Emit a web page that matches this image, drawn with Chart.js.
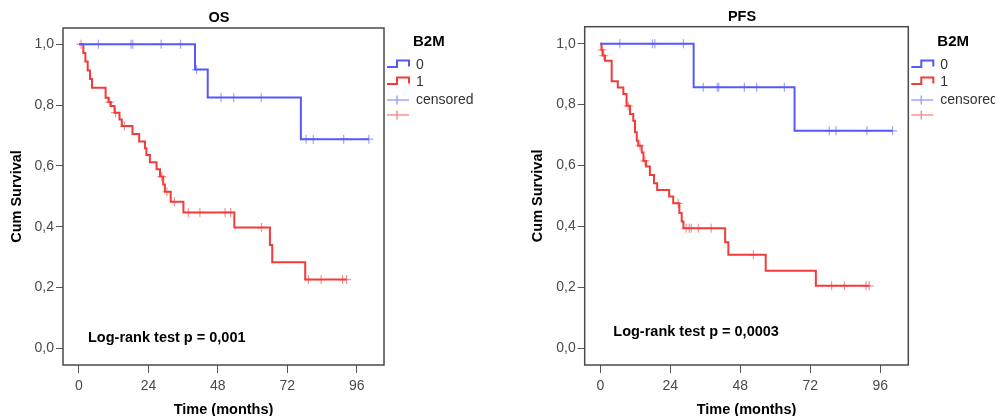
<!DOCTYPE html>
<html>
<head>
<meta charset="utf-8">
<script src="https://cdn.jsdelivr.net/npm/chart.js@4.4.0/dist/chart.umd.min.js"></script>
<style>
  html, body { margin: 0; padding: 0; background: #fff; overflow: hidden; }
  #wrap { position: relative; width: 995px; height: 416px; overflow: hidden; }
  canvas { position: absolute; top: 0; }
</style>
</head>
<body>
<div id="wrap">
  <canvas id="os" width="497" height="420" style="left:0"></canvas>
  <canvas id="pfs" width="498" height="420" style="left:497px"></canvas>
</div>
<script>
// tick labels / legend
const xTicks = [0, 24, 48, 72, 96];
const yTicks = [0, 0.2, 0.4, 0.6, 0.8, 1.0];
const groupLabels = ['0', '1'];
const legendTitle = 'B2M';

// OS, B2M = 0
const osTimes0 = [0, 40.1, 44.5, 76.7];
const osSurv0 = [1.0, 0.917, 0.825, 0.688];
const osCens0 = [6.7, 18.0, 18.6, 28.4, 35.1, 40.6, 49.1, 53.5, 63.0, 78.5, 81.0, 91.5, 100.2];
// OS, B2M = 1
const osTimes1 = [0, 1.5, 2.2, 3.0, 3.8, 4.5, 9.2, 10.2, 11.0, 12.3, 14.0, 14.8, 18.5, 20.8, 22.8, 23.3, 24.5, 26.8, 28.0, 29.1, 29.7, 31.7, 36.1, 53.7, 66.0, 66.8, 78.2];
const osSurv1 = [1.0, 0.971, 0.943, 0.914, 0.886, 0.857, 0.824, 0.810, 0.797, 0.775, 0.753, 0.731, 0.705, 0.680, 0.658, 0.636, 0.612, 0.589, 0.565, 0.539, 0.515, 0.482, 0.447, 0.397, 0.340, 0.283, 0.226];
const osCens1 = [0.7, 10.6, 12.6, 15.7, 28.6, 30.4, 33.0, 37.8, 41.8, 50.5, 52.4, 63.1, 79.3, 83.7, 91.1, 92.5];

// PFS, B2M = 0
const pfsTimes0 = [0, 32.0, 66.6];
const pfsSurv0 = [1.0, 0.857, 0.714];
const pfsCens0 = [6.7, 17.9, 18.7, 28.5, 35.3, 40.1, 40.6, 49.4, 53.6, 63.1, 78.5, 80.8, 91.4, 100.2];
// PFS, B2M = 1
const pfsTimes1 = [0, 0.4, 0.8, 1.6, 3.9, 6.0, 7.9, 9.0, 10.2, 11.3, 11.9, 12.5, 13.0, 14.2, 14.8, 15.7, 17.0, 18.4, 19.5, 23.6, 25.0, 27.1, 27.9, 28.5, 42.8, 43.9, 56.7, 73.9];
const pfsSurv1 = [1.0, 0.980, 0.961, 0.944, 0.877, 0.856, 0.835, 0.796, 0.769, 0.747, 0.709, 0.681, 0.665, 0.643, 0.615, 0.597, 0.569, 0.542, 0.520, 0.498, 0.476, 0.444, 0.416, 0.394, 0.348, 0.307, 0.255, 0.205];
const pfsCens1 = [0.6, 1.2, 9.6, 13.6, 15.3, 26.7, 29.4, 30.5, 31.2, 33.6, 38.0, 52.5, 79.3, 83.7, 91.1, 92.2];

const BLUE = '#5558fb';
const RED = '#f23b3b';
const BLUE_C = 'rgba(85,88,251,0.55)';
const RED_C = 'rgba(242,59,59,0.55)';
const AXIS = '#555';
const FONT = '"Liberation Sans", Arial, sans-serif';

Chart.defaults.font.family = FONT;

// value of the step function at time t
function survAt(times, surv, t) {
  let s = surv[0];
  for (let i = 0; i < times.length; i++) if (times[i] <= t) s = surv[i];
  return s;
}

function curve(times, surv, cens) {
  const pts = times.map((t, i) => ({ x: t, y: surv[i] }));
  const end = Math.max(times[times.length - 1], cens[cens.length - 1]);
  pts.push({ x: end, y: surv[surv.length - 1] });
  return pts;
}

function censPts(times, surv, cens) {
  return cens.map(t => ({ x: t, y: survAt(times, surv, t) }));
}

const decor = {
  id: 'decor',
  afterDraw(chart, args, o) {
    const { ctx, chartArea: a } = chart;
    ctx.save();
    ctx.strokeStyle = '#4a4a4a';
    ctx.lineWidth = 1.5;
    ctx.strokeRect(a.left, a.top, a.right - a.left, a.bottom - a.top);

    ctx.fillStyle = '#000';
    ctx.textBaseline = 'middle';
    ctx.font = 'bold 14.5px ' + FONT;
    ctx.textAlign = 'center';
    ctx.fillText(o.title, (a.left + a.right) / 2 - 4.5, o.titleY);
    ctx.textAlign = 'left';
    ctx.fillText(o.note, o.noteX, o.noteY);

    // legend
    const x0 = a.right + 3;
    ctx.font = 'bold 15px ' + FONT;
    ctx.fillText(legendTitle, a.right + 29, 42);
    ctx.font = '14px ' + FONT;
    ctx.fillStyle = '#333';
    const rows = [[BLUE, 65], [RED, 82]];
    rows.forEach(([c, y], i) => {
      ctx.strokeStyle = c;
      ctx.lineWidth = 2;
      ctx.beginPath();
      ctx.moveTo(x0, y + 2);
      ctx.lineTo(x0 + 10, y + 2);
      ctx.lineTo(x0 + 10, y - 4.5);
      ctx.lineTo(x0 + 22, y - 4.5);
      ctx.lineTo(x0 + 22, y + 1.5);
      ctx.stroke();
      ctx.fillText(groupLabels[i], a.right + 32, y);
    });
    [[BLUE_C, 100], [RED_C, 115]].forEach(([c, y]) => {
      ctx.strokeStyle = c;
      ctx.lineWidth = 1.5;
      ctx.beginPath();
      ctx.moveTo(x0, y); ctx.lineTo(x0 + 22, y);
      ctx.moveTo(x0 + 10, y - 4.5); ctx.lineTo(x0 + 10, y + 4.5);
      ctx.stroke();
    });
    ctx.fillText('censored', a.right + 32, 100);
    ctx.restore();
  }
};

function kmChart(id, p) {
  const H = 420;
  const W = p.width;
  return new Chart(document.getElementById(id), {
    type: 'line',
    data: {
      datasets: [
        { data: curve(p.t0, p.s0, p.c0), borderColor: BLUE, borderWidth: 2, stepped: true, pointRadius: 0, fill: false },
        { data: curve(p.t1, p.s1, p.c1), borderColor: RED, borderWidth: 2, stepped: true, pointRadius: 0, fill: false },
        { data: censPts(p.t0, p.s0, p.c0), showLine: false, pointStyle: 'cross', pointRadius: 4.5, pointBorderWidth: 1.2, pointBorderColor: BLUE_C },
        { data: censPts(p.t1, p.s1, p.c1), showLine: false, pointStyle: 'cross', pointRadius: 4.5, pointBorderWidth: 1.2, pointBorderColor: RED_C }
      ]
    },
    options: {
      responsive: false,
      animation: false,
      events: [],
      layout: { padding: { left: 0, right: W - p.right, top: p.top, bottom: 2 } },
      plugins: {
        legend: { display: false },
        tooltip: { enabled: false },
        decor: { title: p.title, titleY: p.titleY, note: p.note, noteX: p.noteX, noteY: p.noteY }
      },
      scales: {
        x: {
          type: 'linear', min: p.xMin, max: p.xMax,
          afterBuildTicks: s => { s.ticks = xTicks.map(v => ({ value: v })); },
          afterFit: s => { s.height = H - 2 - p.bottom; },
          grid: { drawOnChartArea: false, drawTicks: true, tickLength: 8, color: AXIS },
          border: { display: false },
          ticks: { color: '#4a4a4a', font: { size: 14 }, padding: 5, maxRotation: 0, autoSkip: false, callback: v => String(v) },
          title: { display: true, text: 'Time (months)', color: '#000', font: { size: 14.5, weight: 'bold' }, padding: { top: 0, bottom: -1 } }
        },
        y: {
          type: 'linear', min: p.yMin, max: p.yMax,
          afterBuildTicks: s => { s.ticks = yTicks.map(v => ({ value: v })); },
          afterFit: s => { s.width = p.left; },
          grid: { drawOnChartArea: false, drawTicks: true, tickLength: 7, color: AXIS },
          border: { display: false },
          ticks: { color: '#4a4a4a', font: { size: 14 }, padding: 2, callback: v => v.toFixed(1).replace('.', ',') },
          title: { display: true, text: 'Cum Survival', color: '#000', font: { size: 14.5, weight: 'bold' }, padding: { top: p.yTitlePad, bottom: 0 } }
        }
      }
    },
    plugins: [decor]
  });
}

kmChart('os', {
  width: 497, left: 63, right: 384, top: 28, bottom: 365, yTitlePad: 8.5,
  xMin: -5.53, xMax: 105.44, yMin: -0.0549, yMax: 1.0536,
  t0: osTimes0, s0: osSurv0, c0: osCens0, t1: osTimes1, s1: osSurv1, c1: osCens1,
  title: 'OS', titleY: 17.5, note: 'Log-rank test p = 0,001', noteX: 88, noteY: 338
});

kmChart('pfs', {
  width: 498, left: 87.7, right: 411.3, top: 26.7, bottom: 365, yTitlePad: 32,
  xMin: -5.35, xMax: 105.6, yMin: -0.0548, yMax: 1.0558,
  t0: pfsTimes0, s0: pfsSurv0, c0: pfsCens0, t1: pfsTimes1, s1: pfsSurv1, c1: pfsCens1,
  title: 'PFS', titleY: 17, note: 'Log-rank test p = 0,0003', noteX: 116.3, noteY: 332
});
</script>
</body>
</html>
